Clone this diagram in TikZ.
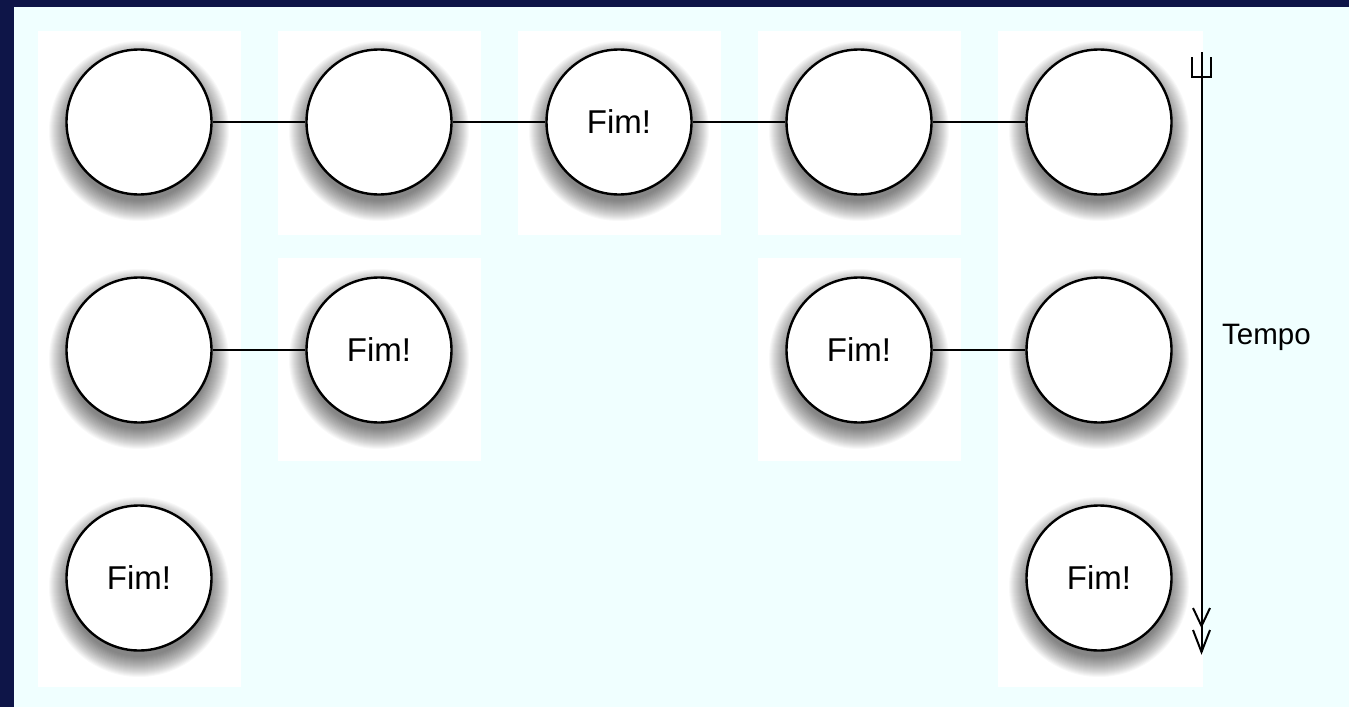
\documentclass[tikz,border=0pt]{standalone}
\usepackage{fontspec}
\setmainfont{Liberation Sans}
\definecolor{navy}{HTML}{0E1548}
\definecolor{panel}{HTML}{F0FFFF}
\tikzset{
  state/.style={circle, draw=black, line width=2.4pt, fill=white, minimum size=145pt, inner sep=0pt,
    font=\fontsize{33}{39}\selectfont},
  link/.style={line width=2pt, black},
  lane/.style={fill=white, draw=none},
  timeline/.style={line width=2pt, black},
}
\begin{document}
\begin{tikzpicture}[x=1pt, y=-1pt]
  \useasboundingbox (0,0) rectangle (1349,707);
  % frame and panel
  \fill[navy] (0,0) rectangle (1349,707);
  \fill[panel] (14,7) rectangle (1349,707);
  % white lanes behind the states
  \fill[lane] (38,31) rectangle (241,687);
  \fill[lane] (278,31) rectangle (481,235);
  \fill[lane] (278,258) rectangle (481,461);
  \fill[lane] (518,31) rectangle (721,235);
  \fill[lane] (758,31) rectangle (961,235);
  \fill[lane] (758,258) rectangle (961,461);
  \fill[lane] (998,31) rectangle (1203,687);
  % soft shadows under the states
  \foreach \cx/\cy in {139/122, 379/122, 619/122, 859/122, 1099/122,
                       139/350, 379/350, 859/350, 1099/350,
                       139/578, 1099/578} {
    \foreach \i in {0,...,20} {
      \pgfmathsetmacro\rr{70+\i}
      \fill[black, opacity=0.028] (\cx,{\cy+9}) circle[radius=\rr pt];
    }
  }
  % states
  \node[state] (a1) at (139,122) {};
  \node[state] (b1) at (379,122) {};
  \node[state] (c1) at (619,122) {Fim!};
  \node[state] (d1) at (859,122) {};
  \node[state] (e1) at (1099,122) {};
  \node[state] (a2) at (139,350) {};
  \node[state] (b2) at (379,350) {Fim!};
  \node[state] (d2) at (859,350) {Fim!};
  \node[state] (e2) at (1099,350) {};
  \node[state] (a3) at (139,578) {Fim!};
  \node[state] (e3) at (1099,578) {Fim!};
  % links
  \draw[link] (a1) -- (b1);
  \draw[link] (b1) -- (c1);
  \draw[link] (c1) -- (d1);
  \draw[link] (d1) -- (e1);
  \draw[link] (a2) -- (b2);
  \draw[link] (d2) -- (e2);
  % time axis
  \coordinate (t0) at (1201.5,52);
  \coordinate (t1) at (1201.5,652);
  \draw[timeline] (t0) -- (t1);
  \draw[timeline] ([xshift=-9.5pt,yshift=-5pt]t0) -- ([xshift=-9.5pt,yshift=-25pt]t0)
     -- ([xshift=9.5pt,yshift=-25pt]t0) -- ([xshift=9.5pt,yshift=-5pt]t0);
  \draw[timeline, line join=miter] ([xshift=-8.5pt,yshift=44pt]t1) -- ([yshift=26pt]t1) -- ([xshift=8.5pt,yshift=44pt]t1);
  \draw[timeline, line join=miter] ([xshift=-8.5pt,yshift=22pt]t1) -- (t1) -- ([xshift=8.5pt,yshift=22pt]t1);
  \node[anchor=west, font=\fontsize{29.5}{35}\selectfont, inner sep=0pt] (tempo) at (1222,337) {Tempo};
\end{tikzpicture}
\end{document}
